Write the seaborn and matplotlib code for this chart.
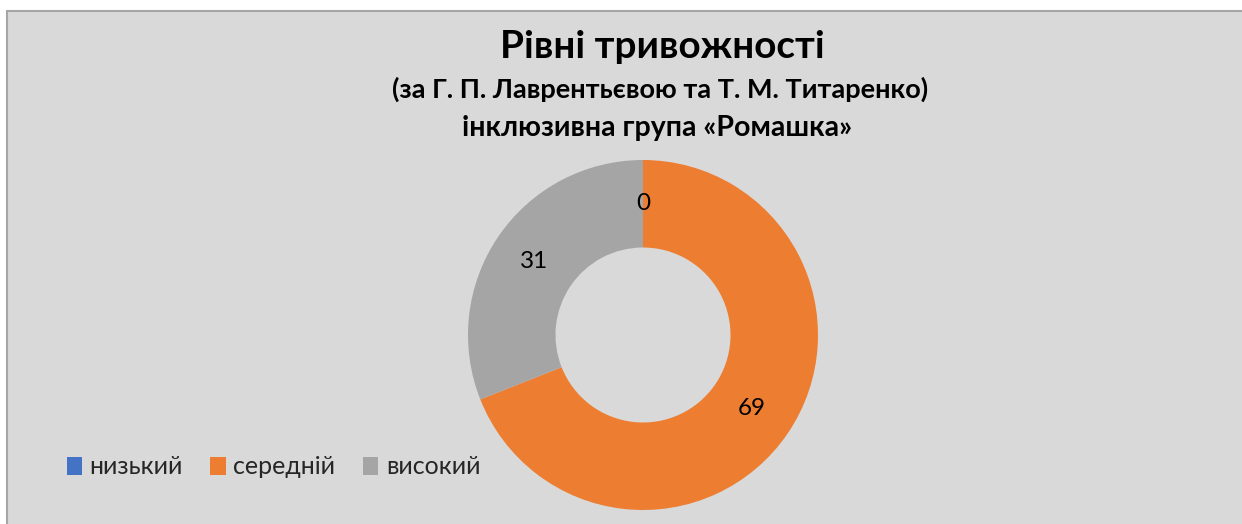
import matplotlib
matplotlib.use("Agg")
import matplotlib.pyplot as plt
from matplotlib.patches import Rectangle
import seaborn as sns

categories = ["низький", "середній", "високий"]
values = [0, 69, 31]
colors = ["#4472C4", "#ED7D31", "#A5A5A5"]
title_lines = ["Рівні тривожності",
               "(за Г. П. Лаврентьєвою та Т. М. Титаренко)",
               "інклюзивна група «Ромашка»"]

sns.set_theme(style="white")
plt.rcParams['font.family'] = ['Lato', 'Open Sans', 'DejaVu Sans']

W, H = 1242, 524
fig = plt.figure(figsize=(W / 100, H / 100), dpi=100, facecolor="white")

# chart area background
bg = Rectangle((7 / W, -0.05), 1.1, (H - 11) / H + 0.05,
               transform=fig.transFigure, facecolor="#D9D9D9",
               edgecolor="#A6A6A6", linewidth=1.5, zorder=-10)
fig.patches.append(bg)

cx, cy, R = 643, 335, 175
ax = fig.add_axes([(cx - R) / W, (H - cy - R) / H, 2 * R / W, 2 * R / H])
ax.set_zorder(5)
ax.set_facecolor("none")
total = sum(values)
wedges, texts, autotexts = ax.pie(
    values, colors=colors, startangle=90, counterclock=False,
    wedgeprops=dict(width=0.5, linewidth=0),
    autopct=lambda p: f"{round(p * total / 100):d}", pctdistance=0.75,
    textprops=dict(fontsize=17.5, color="#000000"))
ax.set_xlim(-1, 1)
ax.set_ylim(-1, 1)
ax.set_aspect("equal")

fig.text(662 / W, 1 - 46 / H, title_lines[0], ha="center", va="center",
         fontsize=27.8, fontweight="bold", color="#000000")
fig.text(660 / W, 1 - 89 / H, title_lines[1], ha="center", va="center",
         fontsize=19.5, fontweight="bold", color="#000000")
fig.text(657 / W, 1 - 128 / H, title_lines[2], ha="center", va="center",
         fontsize=20.5, fontweight="bold", color="#000000")

leg = fig.legend(wedges, categories, loc="center left",
                 bbox_to_anchor=(44 / W, 1 - 467 / H), ncol=3, frameon=False,
                 fontsize=18, handlelength=0.62, handleheight=0.75,
                 handletextpad=0.3, columnspacing=1.1)

fig.savefig("out.png", dpi=100, facecolor="white")
